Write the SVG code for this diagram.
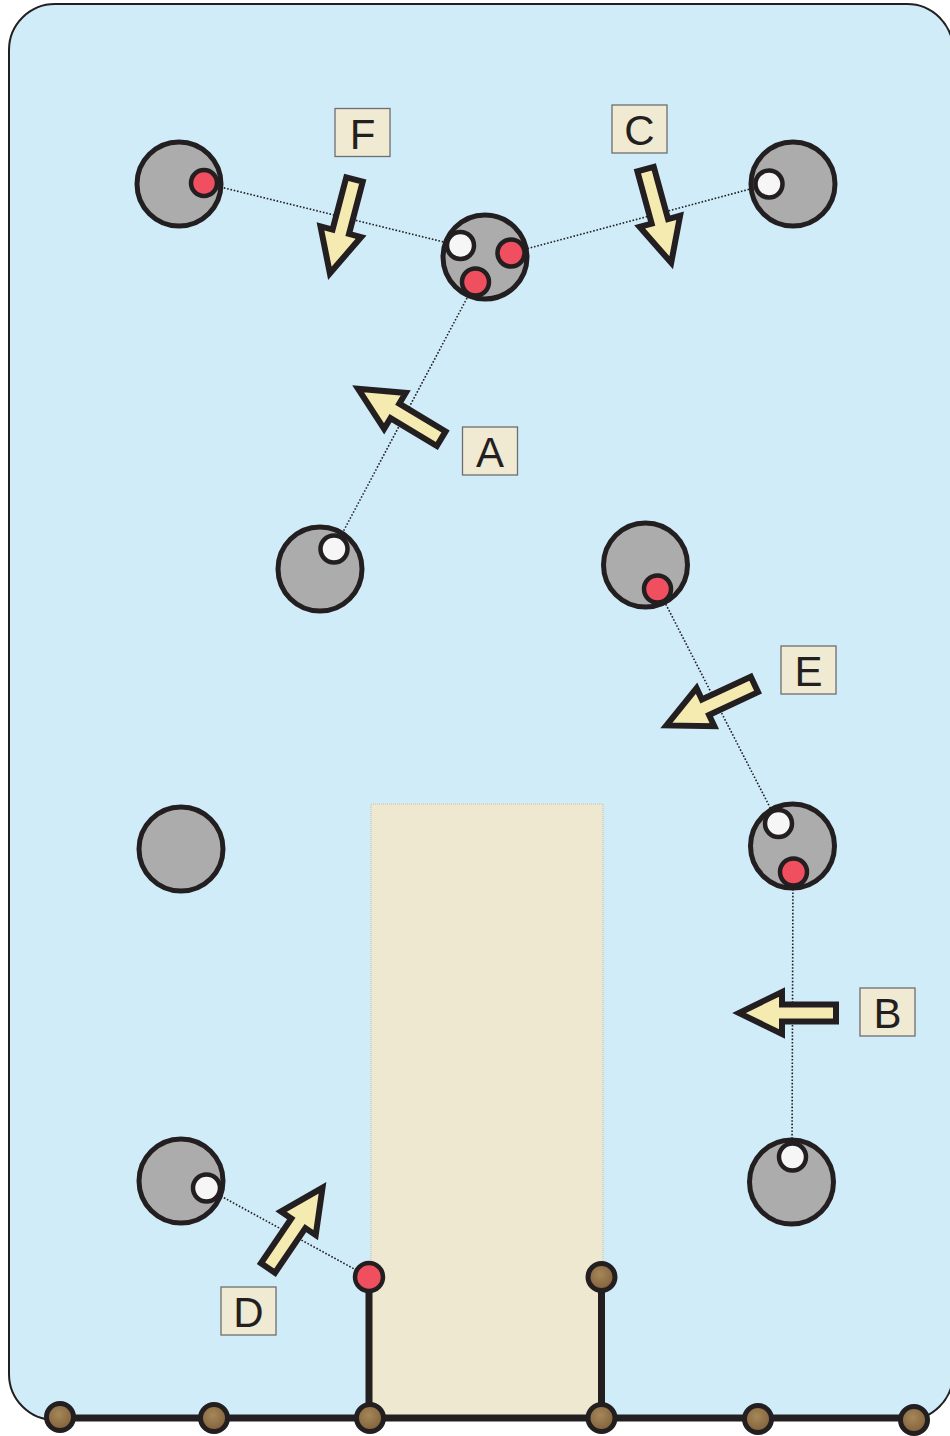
<svg xmlns="http://www.w3.org/2000/svg" width="950" height="1436" viewBox="0 0 950 1436">
<defs>
<radialGradient id="brown" cx="45%" cy="40%" r="60%">
<stop offset="0" stop-color="#a68759"/>
<stop offset="1" stop-color="#80603a"/>
</radialGradient>
<path id="arr" d="M0,-8.5 L54,-8.5 L54,-21 L97,0 L54,21 L54,8.5 L0,8.5 Z"/>
</defs>
<style>
.bg{fill:#d0ecf9;stroke:#231f20;stroke-width:2}
.zone{fill:#efe8d0;stroke:#c9c0a2;stroke-width:1;stroke-dasharray:1 1}
.big{fill:#acacac;stroke:#231f20;stroke-width:5}
.w{fill:#f5f6f5;stroke:#231f20;stroke-width:4.5}
.r{fill:#ef4f5e;stroke:#231f20;stroke-width:4.5}
.b{fill:url(#brown);stroke:#231f20;stroke-width:5}
.dot{fill:none;stroke:#231f20;stroke-width:1.6;stroke-dasharray:1.6 1.8}
.post{fill:none;stroke:#231f20;stroke-width:7}
.arrow{fill:#f5ebb0;stroke:#231f20;stroke-width:6;stroke-linejoin:miter;stroke-miterlimit:10}
.lb{fill:#f0ead2;stroke:#6d6e71;stroke-width:1.3}
.lt{font-family:"Liberation Sans",Arial,sans-serif;font-size:42px;fill:#231f20;text-anchor:middle}
</style>
<rect class="bg" x="9" y="4" width="944" height="1416" rx="46" ry="46"/>
<rect class="zone" x="371" y="804" width="232" height="615"/>
<g id="connectors">
<line class="dot" x1="204" y1="183" x2="460" y2="246"/>
<line class="dot" x1="511" y1="253" x2="769" y2="184"/>
<line class="dot" x1="475" y1="283" x2="334" y2="549"/>
<line class="dot" x1="658" y1="589" x2="778" y2="823"/>
<line class="dot" x1="793" y1="872" x2="792" y2="1157"/>
<line class="dot" x1="206" y1="1188" x2="369" y2="1277"/>
</g>
<g id="node-tl"><circle class="big" cx="179" cy="184" r="42"/><circle class="r" cx="204" cy="183" r="13"/></g>
<g id="node-tc"><circle class="big" cx="485" cy="257" r="42"/><circle class="w" cx="460.5" cy="245.5" r="13.5"/><circle class="r" cx="511" cy="253" r="13.5"/><circle class="r" cx="475.5" cy="282" r="13.5"/></g>
<g id="node-tr"><circle class="big" cx="793" cy="184" r="42"/><circle class="w" cx="769" cy="184" r="13.5"/></g>
<g id="node-ml"><circle class="big" cx="320" cy="569" r="42"/><circle class="w" cx="334" cy="549" r="13.5"/></g>
<g id="node-mr"><circle class="big" cx="645.5" cy="565" r="42"/><circle class="r" cx="657.5" cy="589" r="13.5"/></g>
<g id="node-r2"><circle class="big" cx="792.5" cy="846" r="42"/><circle class="w" cx="778.5" cy="823.5" r="13.5"/><circle class="r" cx="793.5" cy="872" r="13.5"/></g>
<g id="node-l2"><circle class="big" cx="181" cy="849" r="42"/></g>
<g id="node-bl"><circle class="big" cx="181" cy="1181" r="42"/><circle class="w" cx="206.5" cy="1188" r="13.5"/></g>
<g id="node-br"><circle class="big" cx="791.5" cy="1182" r="42"/><circle class="w" cx="792.5" cy="1157" r="13.5"/></g>
<g id="fence">
<line class="post" x1="55" y1="1418" x2="918" y2="1418"/>
<line class="post" x1="369" y1="1277" x2="369" y2="1418"/>
<line class="post" x1="601.5" y1="1277" x2="601.5" y2="1418"/>
<circle class="r" cx="369" cy="1277" r="14"/>
<circle class="b" cx="601.5" cy="1277" r="13.5"/>
<circle class="b" cx="60" cy="1417" r="13.5"/>
<circle class="b" cx="214" cy="1418" r="13.5"/>
<circle class="b" cx="370" cy="1418" r="13.5"/>
<circle class="b" cx="601.5" cy="1418" r="13.5"/>
<circle class="b" cx="758" cy="1419" r="13.5"/>
<circle class="b" cx="914" cy="1420" r="13.5"/>
</g>
<g id="arrow-F"><use href="#arr" class="arrow" transform="translate(354.5,179.5) rotate(104.7)"/><rect class="lb" x="335" y="108.5" width="55" height="48"/><text class="lt" x="362.5" y="148.5">F</text></g>
<g id="arrow-C"><use href="#arr" class="arrow" transform="translate(645.6,169.2) rotate(74.7)"/><rect class="lb" x="612" y="105" width="55" height="48"/><text class="lt" x="639.5" y="145">C</text></g>
<g id="arrow-A"><use href="#arr" class="arrow" transform="translate(441.2,438.7) rotate(211)"/><rect class="lb" x="462.5" y="427" width="55" height="48"/><text class="lt" x="490" y="467">A</text></g>
<g id="arrow-E"><use href="#arr" class="arrow" transform="translate(754.4,684.4) rotate(155)"/><rect class="lb" x="781" y="646" width="55" height="48"/><text class="lt" x="808.5" y="686">E</text></g>
<g id="arrow-B"><use href="#arr" class="arrow" transform="translate(836,1013) rotate(180)"/><rect class="lb" x="860" y="988" width="55" height="48"/><text class="lt" x="887.5" y="1028">B</text></g>
<g id="arrow-D"><use href="#arr" class="arrow" transform="translate(268,1268) rotate(-55.8)"/><rect class="lb" x="221" y="1287" width="55" height="48"/><text class="lt" x="248.5" y="1327">D</text></g>
</svg>
